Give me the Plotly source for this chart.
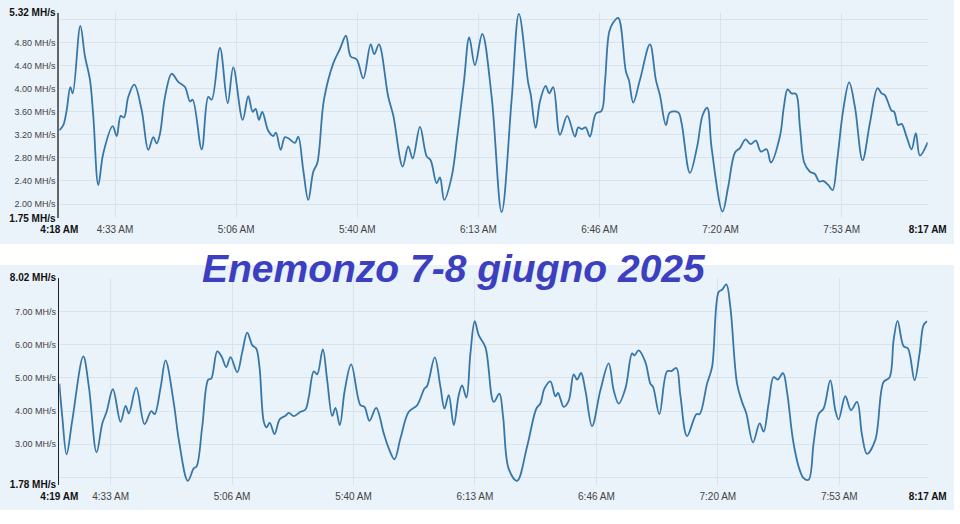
import pandas as pd
import plotly.graph_objects as go

BASE = pd.Timestamp("2025-06-08 04:00:00")

# ---------------- data (minutes after 04:00, hashrate in MH/s) ----------------
top_minutes = [
    18.00, 19.10, 20.04, 21.03, 21.69, 23.78, 25.07, 26.45, 27.36, 28.73,
    30.11, 32.69, 33.80, 34.90, 35.80, 36.99, 38.64, 40.67, 42.49, 43.87,
    44.80, 45.71, 47.09, 48.93, 50.75, 52.59, 53.97, 54.71, 57.19, 59.00,
    59.94, 62.22, 64.34, 65.88, 68.47, 70.01, 71.22, 72.04, 72.95, 73.86,
    75.51, 76.89, 77.63, 78.92, 80.11, 81.48, 82.86, 83.77, 85.14, 86.52,
    87.90, 89.00, 90.84, 93.40, 95.24, 96.89, 98.19, 99.84, 101.65, 103.69,
    104.68, 105.97, 108.53, 109.91, 112.50, 114.04, 115.25, 117.26, 119.10, 120.20,
    121.85, 122.76, 123.94, 125.98, 127.52, 129.36, 130.82, 132.39, 134.40, 136.99,
    139.74, 142.49, 144.50, 147.06, 147.72, 149.10, 150.28, 151.85, 152.84, 153.94,
    155.78, 157.79, 159.91, 160.82, 161.75, 162.85, 164.04, 165.69, 167.26, 168.16,
    169.35, 170.45, 171.82, 173.94, 174.77, 175.95, 177.79, 180.55, 182.20, 183.30,
    184.95, 186.05, 188.34, 189.27, 191.55, 193.56, 195.05, 196.32, 197.53, 200.55,
    202.09, 203.94, 205.31, 206.88, 208.26, 209.71, 211.09, 212.66, 213.84, 216.32,
    217.42, 218.44, 219.54, 220.73, 221.83, 223.01, 224.58, 225.96, 227.14, 228.24,
    229.61, 230.82, 232.09, 233.74, 235.39, 236.96, 239.07, 241.08, 243.20, 244.30,
    245.21, 247.05, 247.77, 248.87, 249.80, 251.18, 252.56, 253.74, 254.84, 257.00,
]
top_hashrate = [
    3.28, 3.37, 3.63, 4.03, 3.92, 5.09, 4.56, 4.15, 3.52, 2.33,
    2.88, 3.35, 3.18, 3.53, 3.50, 3.86, 4.07, 3.63, 2.94, 3.16,
    3.05, 3.22, 3.86, 4.26, 4.12, 4.03, 3.78, 3.81, 2.95, 3.86,
    3.81, 4.71, 3.75, 4.37, 3.46, 3.87, 3.60, 3.65, 3.46, 3.60,
    3.27, 3.18, 3.24, 2.94, 3.16, 3.12, 3.06, 3.17, 2.59, 2.07,
    2.56, 2.71, 3.81, 4.44, 4.69, 4.92, 4.56, 4.51, 4.18, 4.77,
    4.60, 4.77, 3.86, 3.54, 2.65, 3.00, 2.79, 3.34, 2.83, 2.76,
    2.36, 2.46, 2.07, 2.47, 3.17, 4.12, 4.89, 4.41, 4.95, 3.86,
    1.86, 3.81, 5.30, 4.10, 3.91, 3.32, 3.78, 4.05, 3.92, 4.03,
    3.20, 3.53, 3.17, 3.33, 3.30, 3.33, 3.17, 3.57, 3.62, 4.10,
    4.99, 5.15, 5.23, 4.30, 4.15, 3.76, 4.15, 4.77, 4.15, 3.89,
    3.37, 3.59, 3.59, 3.40, 2.54, 3.00, 3.54, 3.67, 2.97, 1.87,
    2.30, 2.89, 2.97, 3.12, 3.04, 3.10, 2.91, 2.95, 2.72, 3.17,
    3.69, 3.99, 3.92, 3.91, 3.34, 2.72, 2.56, 2.52, 2.39, 2.40,
    2.33, 2.24, 2.76, 3.63, 4.11, 3.69, 2.76, 3.40, 4.01, 3.92,
    3.89, 3.62, 3.60, 3.37, 3.39, 3.17, 2.95, 3.23, 2.84, 3.07,
]

bottom_minutes = [
    19.25, 20.07, 21.25, 22.82, 25.83, 27.37, 29.48, 31.05, 32.23, 33.96,
    36.07, 37.44, 38.34, 40.37, 42.65, 44.49, 45.40, 47.04, 48.41, 50.69,
    52.06, 54.53, 56.18, 56.92, 58.48, 60.13, 60.95, 62.60, 63.78, 65.07,
    66.25, 68.08, 69.46, 70.83, 72.20, 73.30, 74.20, 75.38, 76.12, 77.03,
    78.32, 79.77, 81.33, 82.24, 83.61, 85.45, 86.82, 87.73, 89.10, 90.03,
    91.57, 92.78, 94.15, 95.05, 96.23, 97.60, 99.36, 101.91, 103.01, 104.38,
    106.22, 108.30, 109.68, 111.24, 112.89, 115.16, 117.47, 119.47, 120.21, 122.30,
    123.86, 124.96, 126.14, 127.51, 128.88, 129.81, 130.99, 132.09, 133.27, 134.37,
    136.20, 138.48, 140.04, 141.06, 142.60, 144.90, 147.64, 150.20, 151.30, 152.40,
    154.04, 155.41, 156.15, 156.78, 157.69, 159.06, 160.43, 161.37, 162.46, 163.64,
    165.48, 167.76, 170.04, 171.41, 172.78, 174.62, 176.46, 177.09, 178.27, 180.11,
    181.48, 182.22, 183.95, 186.06, 187.24, 188.62, 189.71, 191.55, 194.10, 195.01,
    197.04, 198.41, 200.22, 201.15, 202.33, 203.43, 205.27, 206.64, 207.82, 209.66,
    211.47, 212.57, 213.94, 215.31, 216.41, 217.89, 218.99, 220.63, 222.17, 223.54,
    224.91, 226.28, 227.66, 229.03, 230.87, 232.24, 233.15, 234.99, 236.55, 238.20,
    239.57, 240.94, 243.21, 245.49, 247.14, 248.24, 249.34, 250.98, 252.19, 254.00,
    255.37, 256.47, 257.40,
]
bottom_hashrate = [
    4.83, 3.83, 2.70, 3.73, 5.65, 4.73, 2.76, 3.63, 3.98, 4.66,
    3.68, 4.16, 3.93, 4.71, 3.61, 4.00, 3.91, 4.70, 5.53, 4.23,
    3.13, 1.90, 2.28, 2.33, 3.53, 4.95, 4.98, 5.80, 5.65, 5.33,
    5.63, 5.17, 5.78, 6.37, 5.99, 5.89, 5.33, 3.68, 3.51, 3.65,
    3.31, 3.76, 3.86, 3.95, 3.85, 3.98, 4.05, 4.43, 5.20, 5.11,
    5.86, 4.93, 3.86, 4.10, 3.58, 4.63, 5.41, 4.18, 4.13, 3.71,
    4.10, 3.33, 2.88, 2.55, 3.18, 3.98, 4.18, 4.68, 4.76, 5.62,
    4.73, 4.08, 4.48, 3.58, 4.48, 4.78, 4.41, 5.74, 6.71, 6.29,
    5.93, 4.28, 4.53, 3.83, 2.26, 1.90, 2.93, 4.08, 4.23, 4.68,
    4.90, 4.45, 4.55, 4.38, 4.13, 4.31, 5.11, 4.95, 5.15, 4.63,
    3.55, 4.63, 5.44, 4.63, 4.23, 4.68, 5.74, 5.68, 5.83, 5.48,
    4.83, 4.73, 3.91, 5.20, 5.21, 5.30, 4.48, 3.25, 3.91, 3.91,
    4.83, 5.33, 7.59, 7.66, 7.82, 7.14, 4.83, 4.28, 3.93, 3.06,
    3.63, 3.38, 4.23, 5.03, 4.95, 5.15, 4.58, 3.13, 2.33, 1.98,
    1.93, 3.03, 3.91, 4.08, 4.93, 4.03, 3.75, 4.45, 4.03, 4.28,
    3.28, 2.71, 3.13, 4.88, 5.02, 6.14, 6.72, 5.96, 5.89, 4.93,
    5.74, 6.59, 6.71,
]
assert len(top_minutes) == len(top_hashrate)
assert len(bottom_minutes) == len(bottom_hashrate)

# axis extents (min / max shown in bold on the axes)
top_x_range = ["04:18:00", "08:17:00"]
bottom_x_range = ["04:19:15", "08:17:36"]
top_y_range = [1.75, 5.32]
bottom_y_range = [1.78, 8.02]

# time ticks
inner_time_ticks = ["04:33:20", "05:06:40", "05:40:00", "06:13:20", "06:46:40", "07:20:00", "07:53:20"]
inner_time_labels = ["4:33 AM", "5:06 AM", "5:40 AM", "6:13 AM", "6:46 AM", "7:20 AM", "7:53 AM"]
top_edge_labels = ["4:18 AM", "8:17 AM"]
bottom_edge_labels = ["4:19 AM", "8:17 AM"]

# value ticks
top_value_ticks = [2.00, 2.40, 2.80, 3.20, 3.60, 4.00, 4.40, 4.80]
top_grid_values = [2.00, 2.40, 2.80, 3.20, 3.60, 4.00, 4.40, 4.80, 5.20]
bottom_value_ticks = [3.00, 4.00, 5.00, 6.00, 7.00]
bottom_grid_values = [2.00, 3.00, 4.00, 5.00, 6.00, 7.00, 8.00]

TITLE = "Enemonzo 7-8 giugno 2025"

# ---------------- styling ----------------
W, H = 960, 524
PANEL = "#eaf2fa"
GRID = "#d9e3ec"
LINE = "#3777a8"
TITLE_COLOR = "#3c40c0"
FONT = "Liberation Sans, Arial, sans-serif"


def ts(s):
    return pd.Timestamp("2025-06-08 " + s)


def to_time(mins):
    return [BASE + pd.Timedelta(minutes=m) for m in mins]


def px_x(p):
    return p / W


def px_y(p):
    return 1 - p / H


def bold_edge(s):
    return "<span style='font-size:10px;color:#111'><b>%s</b></span>" % s


fig = go.Figure()
fig.add_trace(go.Scatter(
    x=to_time(top_minutes), y=top_hashrate, mode="lines",
    line=dict(color=LINE, width=1.8, shape="spline", smoothing=1.0),
    xaxis="x", yaxis="y", hoverinfo="skip", showlegend=False,
))
fig.add_trace(go.Scatter(
    x=to_time(bottom_minutes), y=bottom_hashrate, mode="lines",
    line=dict(color=LINE, width=1.8, shape="spline", smoothing=1.0),
    xaxis="x2", yaxis="y2", hoverinfo="skip", showlegend=False,
))


def xaxis_cfg(xr, edge_labels, anchor):
    vals = [ts(xr[0])] + [ts(t) for t in inner_time_ticks] + [ts(xr[1])]
    text = [bold_edge(edge_labels[0])] + inner_time_labels + [bold_edge(edge_labels[1])]
    return dict(
        type="date", range=[ts(xr[0]), ts(xr[1])], domain=[px_x(59.3), px_x(927.7)],
        anchor=anchor, tickmode="array", tickvals=vals, ticktext=text,
        showgrid=False, zeroline=False, showline=False, ticks="",
        tickfont=dict(family=FONT, size=10, color="#444"),
        ticklabelstandoff=4, automargin=False, fixedrange=True,
        minor=dict(tickmode="array", tickvals=[ts(t) for t in inner_time_ticks],
                   showgrid=True, gridcolor=GRID, gridwidth=1, ticks=""),
    )


def yaxis_cfg(yr, ticks, grid, dom, anchor, linecolor, linewidth):
    vals = [yr[0]] + ticks + [yr[1]]
    text = ([bold_edge("%.2f MH/s" % yr[0])] + ["%.2f MH/s" % v for v in ticks]
            + [bold_edge("%.2f MH/s" % yr[1])])
    return dict(
        range=yr, domain=dom, anchor=anchor, tickmode="array", tickvals=vals, ticktext=text,
        showgrid=False, zeroline=False, showline=True, linecolor=linecolor, linewidth=linewidth,
        ticks="", tickfont=dict(family=FONT, size=9, color="#444"),
        ticklabelstandoff=0, automargin=False, fixedrange=True,
        minor=dict(tickmode="array", tickvals=grid, showgrid=True, gridcolor=GRID, gridwidth=1, ticks=""),
    )


fig.update_layout(
    width=W, height=H, autosize=False,
    margin=dict(l=0, r=0, t=0, b=0, pad=0),
    paper_bgcolor="white", plot_bgcolor="rgba(0,0,0,0)",
    xaxis=xaxis_cfg(top_x_range, top_edge_labels, "y"),
    yaxis=yaxis_cfg(top_y_range, top_value_ticks, top_grid_values,
                    [px_y(218.4), px_y(12.7)], "x", "#666666", 2),
    xaxis2=xaxis_cfg(bottom_x_range, bottom_edge_labels, "y2"),
    yaxis2=yaxis_cfg(bottom_y_range, bottom_value_ticks, bottom_grid_values,
                     [px_y(484.8), px_y(277.8)], "x2", "#222222", 1.5),
    shapes=[
        dict(type="rect", xref="paper", yref="paper", layer="below",
             x0=0, x1=px_x(954), y0=px_y(244), y1=1, fillcolor=PANEL, line=dict(width=0)),
        dict(type="rect", xref="paper", yref="paper", layer="below",
             x0=0, x1=px_x(954), y0=px_y(510), y1=px_y(265), fillcolor=PANEL, line=dict(width=0)),
    ],
    annotations=[
        dict(text="<b><i>%s</i></b>" % TITLE, xref="paper", yref="paper",
             x=px_x(454), y=px_y(268), xanchor="center", yanchor="middle", showarrow=False,
             font=dict(family=FONT, size=39, color=TITLE_COLOR)),
    ],
)

fig.write_html(
    "out.html",
    config={"displayModeBar": False, "staticPlot": True},
    post_script="document.body.style.margin='0';document.body.style.overflow='hidden';",
)
